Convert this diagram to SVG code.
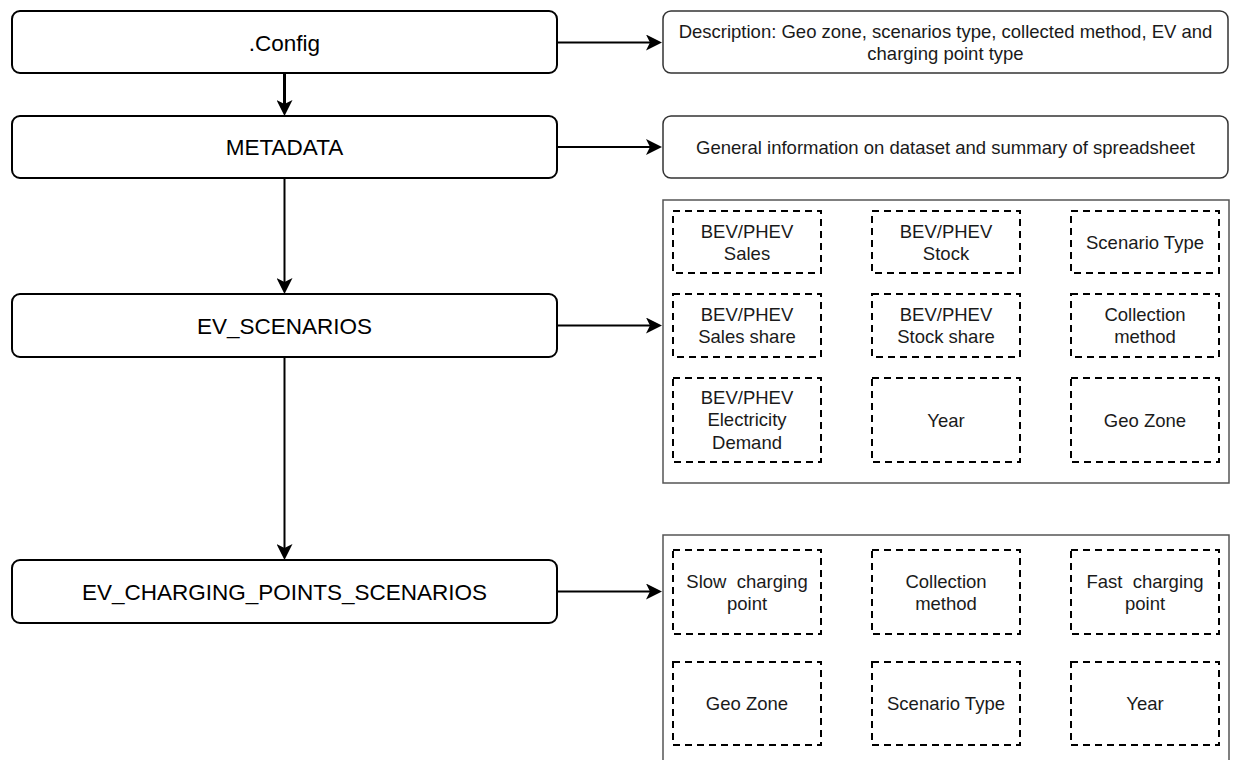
<svg xmlns="http://www.w3.org/2000/svg" width="1236" height="760" viewBox="0 0 1236 760">
<style>
.main{fill:#fff;stroke:#000;stroke-width:2}
.info{fill:#fff;stroke:#333;stroke-width:1.5}
.panel{fill:#fff;stroke:#555;stroke-width:1.5}
.dash{fill:#fff;stroke:#000;stroke-width:2;stroke-dasharray:7 5}
.lt{font-family:"Liberation Sans",Arial,sans-serif;font-size:22.5px;fill:#000;text-anchor:middle}
.rt{font-family:"Liberation Sans",Arial,sans-serif;font-size:18.5px;fill:#1a1a1a;text-anchor:middle;white-space:pre}
.conn{fill:none;stroke:#000;stroke-width:2;marker-end:url(#arr)}
</style>
<defs>
<marker id="arr" viewBox="0 0 16 16" refX="4" refY="8" markerWidth="16" markerHeight="16" markerUnits="userSpaceOnUse" orient="auto">
<path d="M0,0 L16,8 L0,16 L4,8 Z" fill="#000"/>
</marker>
</defs>
<rect width="1236" height="760" fill="#fff"/>

<g id="connectors">
<path class="conn" style="stroke-width:3" d="M284.5,73 V104"/>
<path class="conn" d="M284.5,178 V282"/>
<path class="conn" d="M284.5,357 V548"/>
<path class="conn" d="M557,42.5 H650"/>
<path class="conn" d="M557,147 H650"/>
<path class="conn" d="M557,325.5 H650"/>
<path class="conn" d="M557,591.5 H650"/>
</g>

<g id="config">
<rect class="main" x="12" y="11" width="545" height="62" rx="8"/>
<text class="lt" x="284.5" y="50.5">.Config</text>
</g>
<g id="metadata">
<rect class="main" x="12" y="116" width="545" height="62" rx="8"/>
<text class="lt" x="284.5" y="155">METADATA</text>
</g>
<g id="ev_scenarios">
<rect class="main" x="12" y="294" width="545" height="63" rx="8"/>
<text class="lt" x="284.5" y="333.5">EV_SCENARIOS</text>
</g>
<g id="ev_charging_points_scenarios">
<rect class="main" x="12" y="560" width="545" height="63" rx="8"/>
<text class="lt" x="284.5" y="599.5">EV_CHARGING_POINTS_SCENARIOS</text>
</g>

<g id="description">
<rect class="info" x="663" y="11" width="565" height="62" rx="8"/>
<text class="rt" x="945.5" y="37.6">Description: Geo zone, scenarios type, collected method, EV and</text>
<text class="rt" x="945.5" y="59.6">charging point type</text>
</g>
<g id="general_info">
<rect class="info" x="663" y="116" width="565" height="62" rx="8"/>
<text class="rt" x="945.5" y="153.6">General information on dataset and summary of spreadsheet</text>
</g>

<g id="ev_scenarios_fields">
<rect class="panel" x="663" y="200" width="566" height="283"/>
<g id="f_sales">
<rect class="dash" x="673" y="211" width="148" height="62"/>
<text class="rt" x="747" y="237.6">BEV/PHEV</text>
<text class="rt" x="747" y="259.6">Sales</text>
</g>
<g id="f_stock">
<rect class="dash" x="872" y="211" width="148" height="62"/>
<text class="rt" x="946" y="237.6">BEV/PHEV</text>
<text class="rt" x="946" y="259.6">Stock</text>
</g>
<g id="f_scenario_type">
<rect class="dash" x="1071" y="211" width="148" height="62"/>
<text class="rt" x="1145" y="248.6">Scenario Type</text>
</g>
<g id="f_sales_share">
<rect class="dash" x="673" y="294" width="148" height="63"/>
<text class="rt" x="747" y="321.1">BEV/PHEV</text>
<text class="rt" x="747" y="343.1">Sales share</text>
</g>
<g id="f_stock_share">
<rect class="dash" x="872" y="294" width="148" height="63"/>
<text class="rt" x="946" y="321.1">BEV/PHEV</text>
<text class="rt" x="946" y="343.1">Stock share</text>
</g>
<g id="f_collection">
<rect class="dash" x="1071" y="294" width="148" height="63"/>
<text class="rt" x="1145" y="321.1">Collection</text>
<text class="rt" x="1145" y="343.1">method</text>
</g>
<g id="f_demand">
<rect class="dash" x="673" y="378" width="148" height="84"/>
<text class="rt" x="747" y="403.6">BEV/PHEV</text>
<text class="rt" x="747" y="426.1">Electricity</text>
<text class="rt" x="747" y="448.6">Demand</text>
</g>
<g id="f_year">
<rect class="dash" x="872" y="378" width="148" height="84"/>
<text class="rt" x="946" y="426.6">Year</text>
</g>
<g id="f_geo">
<rect class="dash" x="1071" y="378" width="148" height="84"/>
<text class="rt" x="1145" y="426.6">Geo Zone</text>
</g>
</g>

<g id="ev_charging_fields">
<rect class="panel" x="663" y="535" width="566" height="235"/>
<g id="c_slow">
<rect class="dash" x="673" y="550" width="148" height="84"/>
<text class="rt" x="747" y="587.6">Slow  charging</text>
<text class="rt" x="747" y="609.6">point</text>
</g>
<g id="c_collection">
<rect class="dash" x="872" y="550" width="148" height="84"/>
<text class="rt" x="946" y="587.6">Collection</text>
<text class="rt" x="946" y="609.6">method</text>
</g>
<g id="c_fast">
<rect class="dash" x="1071" y="550" width="148" height="84"/>
<text class="rt" x="1145" y="587.6">Fast  charging</text>
<text class="rt" x="1145" y="609.6">point</text>
</g>
<g id="c_geo">
<rect class="dash" x="673" y="662" width="148" height="83"/>
<text class="rt" x="747" y="710.1">Geo Zone</text>
</g>
<g id="c_scenario_type">
<rect class="dash" x="872" y="662" width="148" height="83"/>
<text class="rt" x="946" y="710.1">Scenario Type</text>
</g>
<g id="c_year">
<rect class="dash" x="1071" y="662" width="148" height="83"/>
<text class="rt" x="1145" y="710.1">Year</text>
</g>
</g>
</svg>
